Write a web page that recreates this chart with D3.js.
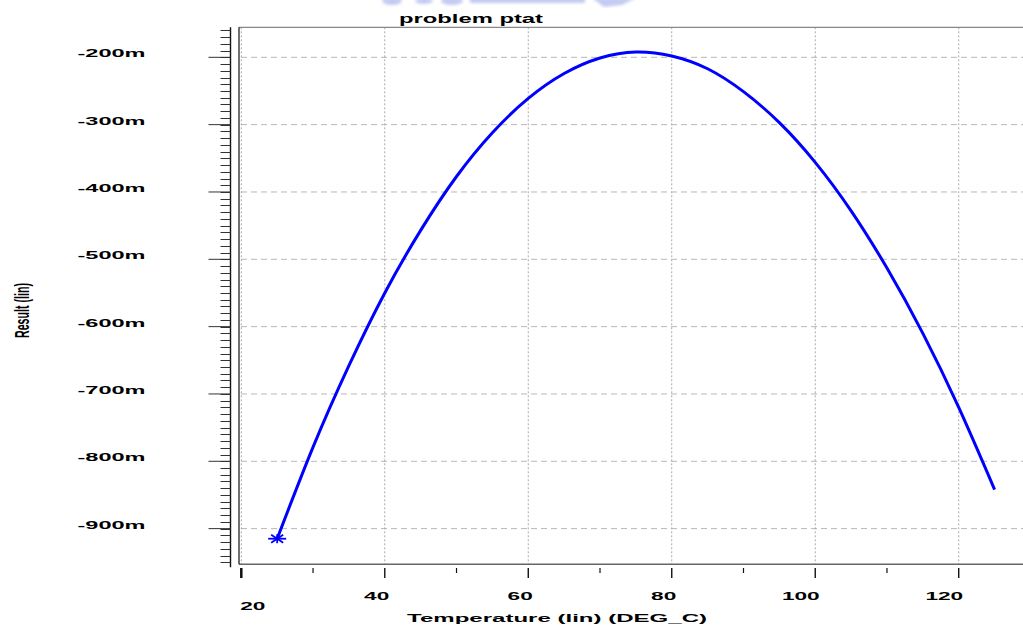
<!DOCTYPE html>
<html>
<head>
<meta charset="utf-8">
<script src="https://cdn.jsdelivr.net/npm/d3@7"></script>
<style>
  html, body { margin: 0; padding: 0; background: #fff; }
  svg { display: block; }
  text { font-family: "Liberation Sans", Arial, Helvetica, sans-serif; font-weight: bold; fill: #000; }
</style>
</head>
<body>
<svg id="chart" width="1023" height="627"></svg>
<script>
// Temperature sweep (DEG_C) and the resulting value (V)
const temperature = [25, 30, 35, 40, 45, 50, 55, 60, 65, 70, 75, 80, 85, 90, 95, 100, 105, 110, 115, 120, 125];
const result = [-0.915, -0.779, -0.658, -0.550, -0.457, -0.377, -0.312, -0.261, -0.224, -0.201, -0.192, -0.198, -0.217, -0.251, -0.297, -0.356, -0.428, -0.513, -0.610, -0.720, -0.842];

const xMajorTicks = [20, 40, 60, 80, 100, 120];
const xMinorTicks = [30, 50, 70, 90, 110];
const yMajorTicks = [-0.9, -0.8, -0.7, -0.6, -0.5, -0.4, -0.3, -0.2];
const yMinorTicks = d3.range(-95, -15, 1).map(v => v / 100);

const titleText = "problem ptat";
const xTitle = "Temperature (lin) (DEG_C)";
const yTitle = "Result (lin)";

const plot = { left: 239, right: 1023, top: 27.3, bottom: 564.3 };
const svg = d3.select("#chart");

const x = d3.scaleLinear().domain([19.68, 128.96]).range([plot.left, plot.right]);
const y = d3.scaleLinear().domain([-0.953, -0.1554]).range([plot.bottom, plot.top]);

// soft blue fragment along the top edge
const defs = svg.append("defs");
defs.append("filter").attr("id", "soft").append("feGaussianBlur").attr("stdDeviation", 1.6);
const haze = svg.append("g").attr("filter", "url(#soft)").attr("fill", "#a9b6ec").attr("opacity", 0.7);
haze.append("ellipse").attr("cx", 392).attr("cy", 1).attr("rx", 10).attr("ry", 4);
haze.append("ellipse").attr("cx", 424).attr("cy", 1).attr("rx", 9).attr("ry", 3);
haze.append("ellipse").attr("cx", 452).attr("cy", 1).attr("rx", 11).attr("ry", 4);
haze.append("rect").attr("x", 470).attr("y", -3).attr("width", 115).attr("height", 6);
haze.append("path").attr("d", "M592,-2 L612,-2 L636,-2 L622,5 L604,7 Z");

// grid
svg.append("g").selectAll("line").data(yMajorTicks).join("line")
  .attr("x1", plot.left + 2).attr("x2", plot.right)
  .attr("y1", d => y(d)).attr("y2", d => y(d))
  .attr("stroke", "#b8b8b8").attr("stroke-width", 1).attr("stroke-dasharray", "6,4");
svg.append("g").selectAll("line").data(xMajorTicks).join("line")
  .attr("x1", d => x(d)).attr("x2", d => x(d))
  .attr("y1", plot.top).attr("y2", plot.bottom)
  .attr("stroke", "#a8a8a8").attr("stroke-width", 1).attr("stroke-dasharray", "2,2");

// plot frame
svg.append("line").attr("x1", plot.left).attr("x2", plot.right)
  .attr("y1", plot.top).attr("y2", plot.top).attr("stroke", "#888").attr("stroke-width", 1.2);
svg.append("line").attr("x1", plot.left).attr("x2", plot.right)
  .attr("y1", plot.bottom).attr("y2", plot.bottom).attr("stroke", "#666").attr("stroke-width", 1.5);
svg.append("line").attr("x1", plot.left).attr("x2", plot.left)
  .attr("y1", plot.top).attr("y2", plot.bottom).attr("stroke", "#222").attr("stroke-width", 1.3);

// y axis: line with minor/major ticks
const yAxisX = 230.5;
svg.append("line").attr("x1", yAxisX).attr("x2", yAxisX)
  .attr("y1", plot.top).attr("y2", plot.bottom + 3).attr("stroke", "#111").attr("stroke-width", 1.4);
svg.append("g").selectAll("line").data(yMinorTicks).join("line")
  .attr("x1", yAxisX - 10).attr("x2", yAxisX)
  .attr("y1", d => Math.round(y(d)) + 0.5).attr("y2", d => Math.round(y(d)) + 0.5)
  .attr("stroke", "#333").attr("stroke-width", 1);
svg.append("g").selectAll("line").data(yMajorTicks).join("line")
  .attr("x1", yAxisX - 22).attr("x2", yAxisX)
  .attr("y1", d => y(d)).attr("y2", d => y(d))
  .attr("stroke", "#333").attr("stroke-width", 1);
svg.append("g").selectAll("text").data(yMajorTicks).join("text")
  .attr("x", 145.5).attr("y", d => y(d))
  .attr("text-anchor", "end").attr("font-size", 11)
  .attr("textLength", 68).attr("lengthAdjust", "spacingAndGlyphs")
  .text(d => Math.round(d * 1000) + "m");

// x axis ticks hanging below the frame
const xTickTop = 568;
svg.append("g").selectAll("line").data(xMajorTicks).join("line")
  .attr("x1", d => x(d)).attr("x2", d => x(d))
  .attr("y1", xTickTop).attr("y2", xTickTop + 10)
  .attr("stroke", "#111").attr("stroke-width", d => d === 20 ? 2.5 : 1.4);
svg.append("g").selectAll("line").data(xMinorTicks).join("line")
  .attr("x1", d => x(d)).attr("x2", d => x(d))
  .attr("y1", xTickTop).attr("y2", xTickTop + 5)
  .attr("stroke", "#111").attr("stroke-width", 1.2);
svg.append("g").selectAll("text").data(xMajorTicks).join("text")
  .attr("x", d => d === 20 ? x(d) - 1 : x(d) + 4.5)
  .attr("y", d => d === 20 ? 610 : 599.5)
  .attr("text-anchor", d => d === 20 ? "start" : "end")
  .attr("font-size", 11)
  .attr("textLength", d => String(d).length * 12.6)
  .attr("lengthAdjust", "spacingAndGlyphs")
  .text(d => d);

// titles
svg.append("text").attr("x", 399).attr("y", 22.7).attr("font-size", 13)
  .attr("textLength", 144).attr("lengthAdjust", "spacingAndGlyphs").text(titleText);
svg.append("text").attr("x", 407).attr("y", 621.5).attr("font-size", 11)
  .attr("textLength", 300).attr("lengthAdjust", "spacingAndGlyphs").text(xTitle);
svg.append("text").attr("transform", "translate(29,338) rotate(-90)")
  .attr("font-size", 21).attr("font-weight", "normal")
  .attr("textLength", 55).attr("lengthAdjust", "spacingAndGlyphs").text(yTitle);

// result curve
const points = temperature.map((t, i) => [t, result[i]]);
const line = d3.line().x(d => x(d[0])).y(d => y(d[1])).curve(d3.curveNatural);
svg.append("path").datum(points).attr("d", line)
  .attr("fill", "none").attr("stroke", "#0000ff").attr("stroke-width", 3);

// start marker (asterisk)
const sx = x(temperature[0]), sy = y(result[0]);
const marker = svg.append("g").attr("transform", `translate(${sx},${sy})`)
  .attr("stroke", "#0000ff").attr("stroke-width", 1.8);
marker.append("line").attr("x1", -9).attr("x2", 9).attr("y1", 0).attr("y2", 0);
marker.append("line").attr("x1", 0).attr("x2", 0).attr("y1", -4.5).attr("y2", 4.5);
marker.append("line").attr("x1", -6).attr("x2", 6).attr("y1", -4).attr("y2", 4);
marker.append("line").attr("x1", -6).attr("x2", 6).attr("y1", 4).attr("y2", -4);
</script>
</body>
</html>
